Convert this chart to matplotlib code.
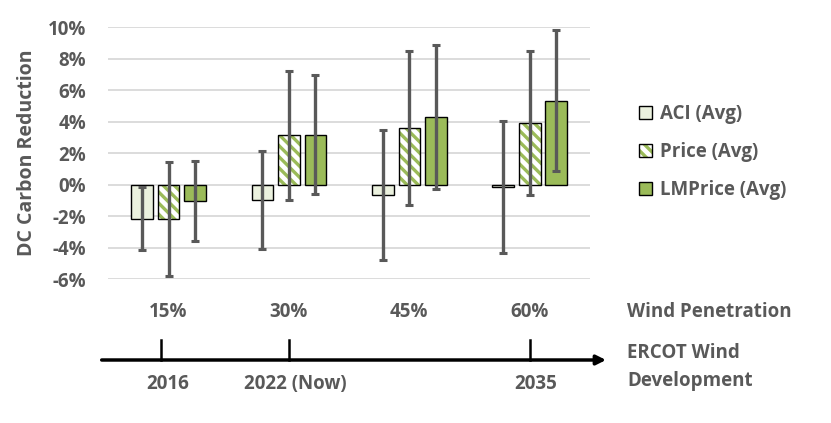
import matplotlib
matplotlib.use("Agg")
import matplotlib.pyplot as plt
import numpy as np
from matplotlib import transforms
from matplotlib.patches import Patch

# ---- data ----
categories = ["15%", "30%", "45%", "60%"]
series_names = ["ACI (Avg)", "Price (Avg)", "LMPrice (Avg)"]
aci_avg = [-2.17, -0.96, -0.64, -0.15]
aci_err = [2.0, 3.12, 4.15, 4.2]
price_avg = [-2.19, 3.14, 3.61, 3.92]
price_err = [3.61, 4.09, 4.88, 4.55]
lmprice_avg = [-1.02, 3.18, 4.29, 5.35]
lmprice_err = [2.53, 3.79, 4.56, 4.45]
yticks = [-6, -4, -2, 0, 2, 4, 6, 8, 10]
timeline_pos = [-0.06, 1.0, 3.0]
timeline_labels = ["2016", "2022 (Now)", "2035"]

GRAY = "#595959"
GREEN = "#9BBB59"
LIGHT = "#EBF1DE"
FONT = "Open Sans"
FS = 13.5

plt.rcParams["font.family"] = [FONT, "DejaVu Sans"]
plt.rcParams["font.weight"] = "bold"
plt.rcParams["hatch.linewidth"] = 2.4

W, H = 831, 423
fig = plt.figure(figsize=(W / 100, H / 100), dpi=100)
ax = fig.add_axes([108.3 / W, 1 - 279.3 / H, (590 - 108.3) / W, (279.3 - 27.3) / H])

x = np.arange(len(categories))
off = 0.22
bw = 0.18
ekw = dict(ecolor=GRAY, elinewidth=2.4, capsize=2.6, capthick=2.2, zorder=4)

ax.bar(x - off, aci_avg, bw, color=LIGHT, edgecolor="black", linewidth=1.0, zorder=3)
ax.errorbar(x - off, aci_avg, yerr=aci_err, fmt="none", **ekw)

ax.bar(x, price_avg, bw, color="white", edgecolor=GREEN, hatch="\\\\\\", linewidth=0, zorder=3)
ax.bar(x, price_avg, bw, fill=False, edgecolor="black", linewidth=1.0, zorder=3)
ax.errorbar(x, price_avg, yerr=price_err, fmt="none", **ekw)

ax.bar(x + off, lmprice_avg, bw, color=GREEN, edgecolor="black", linewidth=1.0, zorder=3)
ax.errorbar(x + off, lmprice_avg, yerr=lmprice_err, fmt="none", **ekw)

ax.set_xlim(-0.5, len(categories) - 0.5)
ax.set_ylim(-6, 10)
ax.set_yticks(yticks)
ax.set_yticklabels([f"{v}%" for v in yticks])
ax.grid(axis="y", color="#D9D9D9", linewidth=1.3, zorder=0)
ax.set_axisbelow(True)
for s in ax.spines.values():
    s.set_visible(False)
ax.tick_params(axis="y", length=0, pad=16, labelsize=FS, labelcolor=GRAY)
ax.set_xticks(x)
ax.set_xticklabels(categories)
ax.tick_params(axis="x", length=0, pad=16, labelsize=FS, labelcolor=GRAY)

fig.text(27 / W, 1 - 153 / H, "DC Carbon Reduction", rotation=90, ha="center", va="center",
         fontsize=14, color=GRAY)

# legend
hatch_handle = (Patch(facecolor="white", edgecolor=GREEN, hatch="\\\\\\", linewidth=0),
                Patch(fill=False, edgecolor="black", linewidth=1.0))
handles = [
    Patch(facecolor=LIGHT, edgecolor="black", linewidth=1.0),
    hatch_handle,
    Patch(facecolor=GREEN, edgecolor="black", linewidth=1.0),
]
leg = fig.legend(handles, series_names, loc="center left", bbox_to_anchor=(622 / W, 1 - 152 / H),
                 frameon=False, handlelength=0.7, handleheight=0.7,
                 handletextpad=0.4, labelspacing=0.95, prop={"weight": "bold", "size": FS})
for t in leg.get_texts():
    t.set_color(GRAY)

fig.text(627 / W, 1 - 311.7 / H, "Wind Penetration", ha="left", va="center",
         fontsize=FS, color=GRAY)

# timeline
ty = 1 - 360 / H
ax.annotate("", xy=(606 / W, ty), xytext=(101.7 / W, ty), xycoords="figure fraction",
            textcoords="figure fraction",
            arrowprops=dict(arrowstyle="-|>", color="black", lw=2.5, mutation_scale=14,
                            shrinkA=0, shrinkB=0), annotation_clip=False)
trans = transforms.blended_transform_factory(ax.transData, fig.transFigure)
for p, lab in zip(timeline_pos, timeline_labels):
    ax.plot([p, p], [ty, 1 - 340 / H], color="black", lw=1.8, transform=trans, clip_on=False)
    ax.text(p + 0.05, 1 - 384 / H, lab, transform=trans, ha="center", va="center",
            fontsize=FS, color=GRAY)

fig.text(627 / W, 1 - 367 / H, "ERCOT Wind\nDevelopment", ha="left", va="center",
         fontsize=FS, color=GRAY, linespacing=1.5)

fig.savefig("out.png", dpi=100)
